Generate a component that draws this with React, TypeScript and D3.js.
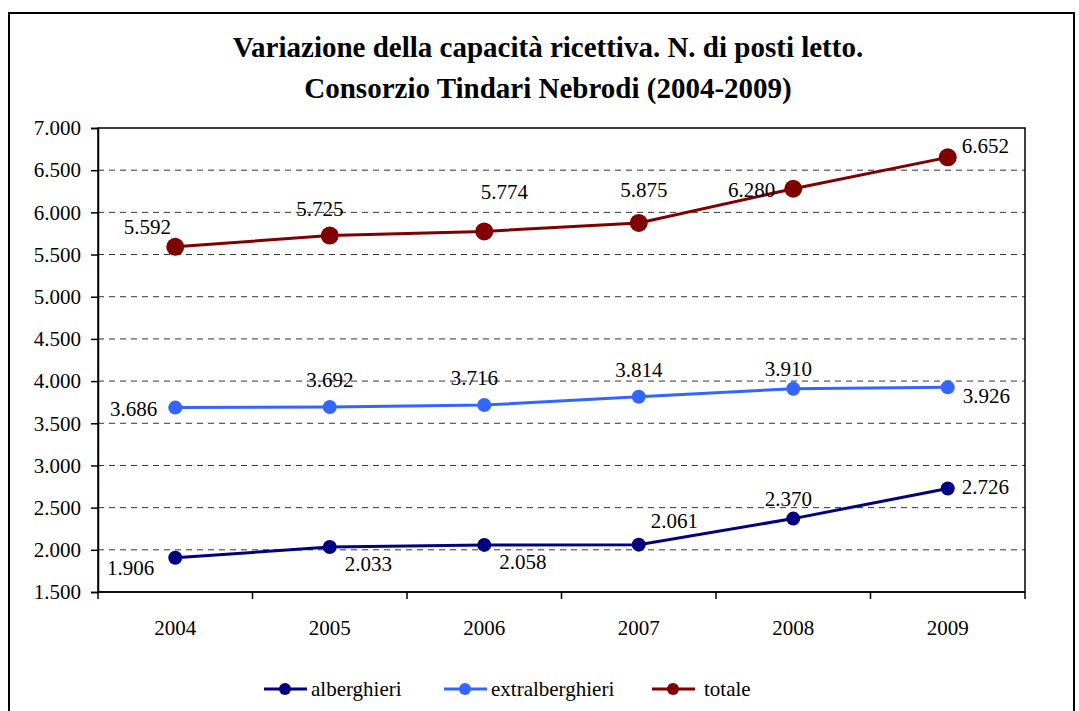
import React, { useEffect, useRef } from 'react';
import * as d3 from 'd3';

// data
const years = ['2004', '2005', '2006', '2007', '2008', '2009'];
const alberghieri = [1906, 2033, 2058, 2061, 2370, 2726];
const extralberghieri = [3686, 3692, 3716, 3814, 3910, 3926];
const totale = [5592, 5725, 5774, 5875, 6280, 6652];
const yTicks = [1500, 2000, 2500, 3000, 3500, 4000, 4500, 5000, 5500, 6000, 6500, 7000];
const seriesNames = ['alberghieri', 'extralberghieri', 'totale'];
// where each value label sits relative to its point
const alberghieriLabelPos = ['belowLeft', 'belowRight', 'belowRight', 'aboveRight', 'aboveNear', 'right'];
const extraLabelPos = ['left', 'above', 'aboveLeftish', 'above', 'aboveNear', 'rightDown'];
const totaleLabelPos = ['upLeft', 'aboveLeftish', 'highRight', 'aboveHigh', 'left', 'rightUp'];

const W = 1079;
const H = 711;

const fmt = (v: number) => d3.format(',')(v).replace(/,/g, '.');

const App = () => {
  const ref = useRef<SVGSVGElement>(null);

  useEffect(() => {
    document.body.style.margin = '0';
    const svg = d3.select(ref.current);
    svg.selectAll('*').remove();

    const margin = { left: 98, right: 54, top: 128, bottom: 119 };
    const x = d3.scaleBand().domain(years).range([margin.left, W - margin.right]);
    const y = d3.scaleLinear().domain([1500, 7000]).range([H - margin.bottom, margin.top]);
    const font = "'Liberation Serif', Tinos, 'Times New Roman', 'Noto Serif', 'DejaVu Serif', FreeSerif, Times, serif";
    const fs = 21;

    // outer frame
    svg.append('rect')
      .attr('x', 9).attr('y', 13).attr('width', 1065).attr('height', 720)
      .attr('fill', 'white').attr('stroke', 'black').attr('stroke-width', 2);

    // title
    const title = svg.append('text')
      .attr('text-anchor', 'middle')
      .style('font-family', font).attr('font-weight', 'bold').attr('font-size', 29);
    title.append('tspan').attr('x', 548).attr('y', 57).text('Variazione della capacità ricettiva. N. di posti letto.');
    title.append('tspan').attr('x', 548).attr('y', 98).text('Consorzio Tindari Nebrodi (2004-2009)');

    // gridlines
    svg.append('g').selectAll('line')
      .data(yTicks.filter(t => t > 1500 && t < 7000))
      .enter().append('line')
      .attr('x1', margin.left).attr('x2', W - margin.right)
      .attr('y1', d => y(d)).attr('y2', d => y(d))
      .attr('stroke', '#333').attr('stroke-width', 1)
      .attr('stroke-dasharray', '6,5');

    // plot border
    svg.append('rect')
      .attr('x', margin.left).attr('y', margin.top)
      .attr('width', W - margin.right - margin.left)
      .attr('height', H - margin.bottom - margin.top)
      .attr('fill', 'none').attr('stroke', 'black').attr('stroke-width', 1.5);

    // y axis
    const yAxis = svg.append('g')
      .attr('transform', `translate(${margin.left},0)`)
      .call(d3.axisLeft(y).tickValues(yTicks).tickFormat(d => fmt(d as number)).tickSize(7).tickPadding(10));
    yAxis.attr('font-family', null);
    yAxis.select('.domain').attr('stroke-width', 1.5);
    yAxis.selectAll('line').attr('stroke-width', 1.5);
    yAxis.selectAll('text').style('font-family', font).attr('font-size', fs).attr('fill', 'black');

    // x axis with ticks between categories
    const xBottom = H - margin.bottom;
    const xAxis = svg.append('g').attr('transform', `translate(0,${xBottom})`);
    xAxis.append('line').attr('x1', margin.left).attr('x2', W - margin.right)
      .attr('stroke', 'black').attr('stroke-width', 1.5);
    const edges = years.map(yr => x(yr) as number).concat([W - margin.right]);
    xAxis.selectAll('.tk').data(edges).enter().append('line')
      .attr('x1', d => d).attr('x2', d => d).attr('y1', 0).attr('y2', 7)
      .attr('stroke', 'black').attr('stroke-width', 1.5);
    xAxis.selectAll('.lbl').data(years).enter().append('text')
      .attr('x', d => (x(d) as number) + x.bandwidth() / 2)
      .attr('y', 43)
      .attr('text-anchor', 'middle')
      .style('font-family', font).attr('font-size', fs)
      .text(d => d);

    const cx = (i: number) => (x(years[i]) as number) + x.bandwidth() / 2;
    const line = d3.line<number>().x((_, i) => cx(i)).y(d => y(d));

    const offsets: Record<string, [number, number, string]> = {
      above: [0, -20, 'middle'],
      aboveNear: [-5, -13, 'middle'],
      aboveLeftish: [-10, -20, 'middle'],
      aboveHigh: [5, -26, 'middle'],
      highRight: [20, -32, 'middle'],
      upLeft: [-28, -13, 'middle'],
      aboveRight: [12, -17, 'start'],
      left: [-18, 8, 'end'],
      right: [14, 5, 'start'],
      rightUp: [14, -4, 'start'],
      rightDown: [15, 16, 'start'],
      belowLeft: [-21, 17, 'end'],
      belowRight: [15, 24, 'start'],
    };

    const series = [
      { name: seriesNames[0], values: alberghieri, color: '#000080', r: 7, pos: alberghieriLabelPos },
      { name: seriesNames[1], values: extralberghieri, color: '#3366ff', r: 7, pos: extraLabelPos },
      { name: seriesNames[2], values: totale, color: '#800000', r: 9, pos: totaleLabelPos },
    ];

    series.forEach(s => {
      const g = svg.append('g');
      g.append('path').datum(s.values)
        .attr('d', line).attr('fill', 'none')
        .attr('stroke', s.color).attr('stroke-width', 3);
      g.selectAll('circle').data(s.values).enter().append('circle')
        .attr('cx', (_, i) => cx(i)).attr('cy', d => y(d))
        .attr('r', s.r).attr('fill', s.color);
      g.selectAll('text').data(s.values).enter().append('text')
        .attr('x', (_, i) => cx(i) + offsets[s.pos[i]][0])
        .attr('y', (d, i) => y(d) + offsets[s.pos[i]][1])
        .attr('text-anchor', (_, i) => offsets[s.pos[i]][2])
        .style('font-family', font).attr('font-size', fs)
        .text(d => fmt(d));
    });

    // legend
    const legendX = [264, 444, 652];
    const legendTextX = [311, 491, 704];
    const ly = 689;
    series.forEach((s, i) => {
      const g = svg.append('g');
      g.append('line').attr('x1', legendX[i]).attr('x2', legendX[i] + 43)
        .attr('y1', ly).attr('y2', ly).attr('stroke', s.color).attr('stroke-width', 3);
      g.append('circle').attr('cx', legendX[i] + 21).attr('cy', ly).attr('r', 6).attr('fill', s.color);
      g.append('text').attr('x', legendTextX[i]).attr('y', ly + 7)
        .style('font-family', font).attr('font-size', fs).text(s.name);
    });
  }, []);

  return <svg ref={ref} width={W} height={H} style={{ display: 'block' }} />;
};

export default App;
